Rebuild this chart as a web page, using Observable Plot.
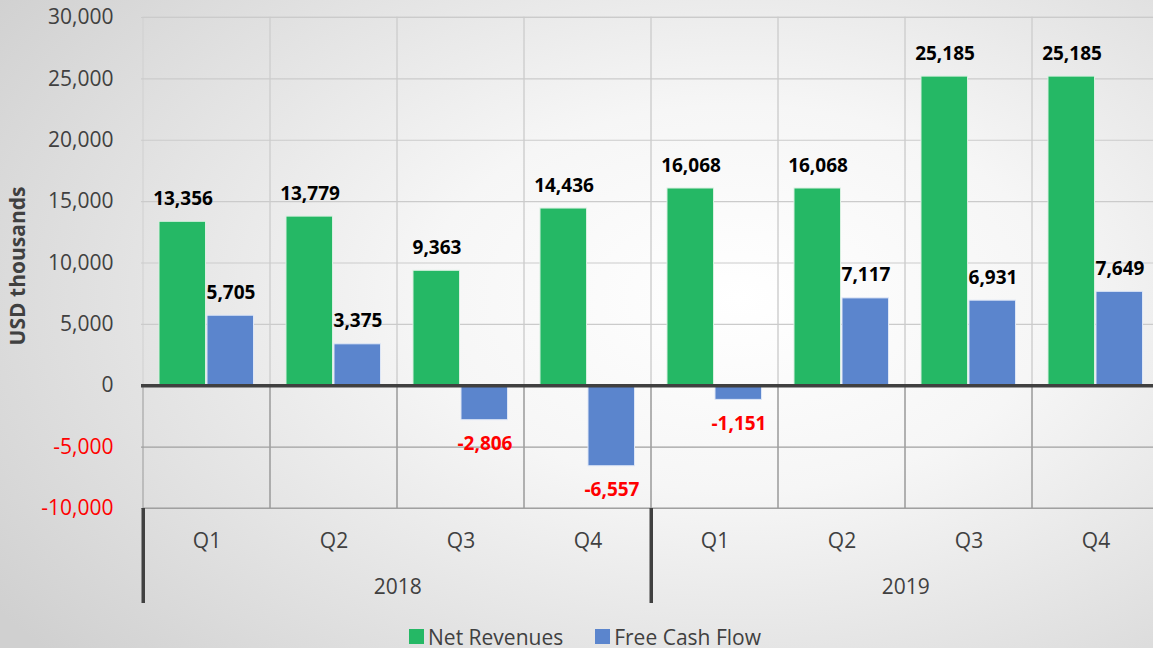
<!DOCTYPE html>
<html><head><meta charset="utf-8">
<script src="https://cdn.jsdelivr.net/npm/d3@7"></script>
<script src="https://cdn.jsdelivr.net/npm/@observablehq/plot@0.6"></script>
<style>
html,body{margin:0;padding:0;}
body{width:1153px;height:648px;overflow:hidden;font-family:"Open Sans",sans-serif;
background: radial-gradient(ellipse 78% 85% at 64% 46%, #ffffff 0%, #f6f6f6 35%, #d0d0d0 100%);}
#legend{display:flex;justify-content:center;margin-left:17px;}
.lg-swatch{margin-right:32px !important;}
.lg-swatch:last-child{margin-right:0 !important;}
.lg-swatch svg{margin-right:4px !important;}
</style></head><body><div id="chart"></div><div id="legend"></div>
<script>
const quarters = ["2018 Q1","2018 Q2","2018 Q3","2018 Q4","2019 Q1","2019 Q2","2019 Q3","2019 Q4"];
const quarterLabels = ["Q1","Q2","Q3","Q4","Q1","Q2","Q3","Q4"];
const years = ["2018","2019"];
const netRevenues = [13356, 13779, 9363, 14436, 16068, 16068, 25185, 25185];
const freeCashFlow = [5705, 3375, -2806, -6557, -1151, 7117, 6931, 7649];
const yTicks = [-10000,-5000,0,5000,10000,15000,20000,25000,30000];
const seriesNames = ["Net Revenues","Free Cash Flow"];
const seriesColors = ["#25b865","#5b85cd"];

const fmt = v => v.toLocaleString("en-US");
const rows = quarters.map((q,i)=>({q, label: quarterLabels[i], net: netRevenues[i], fcf: freeCashFlow[i]}));
const yMin = d3.min(yTicks), yMax = d3.max(yTicks);
const half = (1161-141)/quarters.length/2;

const chart = Plot.plot({
  width: 1153, height: 620,
  marginLeft: 141, marginRight: 0, marginTop: 0, marginBottom: 17,
  style: {fontFamily: "'Open Sans', sans-serif", background: "transparent", overflow: "visible"},
  x: {type: "band", domain: quarters, range: [141, 1161], padding: 0, axis: null},
  y: {domain: [yMin, yMax], range: [508, 17]},
  marks: [
    Plot.barY(quarters, {x: d => d, y1: 0, y2: yMax, fill: "none", stroke: "#d0d0d0", strokeWidth: 1}),
    Plot.barY(quarters, {x: d => d, y1: yMin, y2: 0, fill: "none", stroke: "#9a9a9a", strokeWidth: 1}),
    Plot.ruleY(yTicks.filter(d => d > 0), {stroke: "#cbcbcb", strokeWidth: 1.2}),
    Plot.ruleY(yTicks.filter(d => d < 0), {stroke: "#a0a0a0", strokeWidth: 1.2}),
    Plot.barY(rows, {x: "q", y: "net", fill: seriesColors[0], stroke: "#d8f0e0", strokeWidth: 1, insetLeft: 16, insetRight: 64.5}),
    Plot.barY(rows, {x: "q", y: "fcf", fill: seriesColors[1], stroke: "#dde6f6", strokeWidth: 1, insetLeft: 64, insetRight: 16.5}),
    Plot.ruleY([0], {stroke: "#404040", strokeWidth: 3.5}),
    Plot.text(rows, {x: "q", y: "net", text: d => fmt(d.net), dx: -24, dy: -23, fontWeight: "bold", fontSize: 19, fill: "#000"}),
    Plot.text(rows.filter(d => d.fcf >= 0), {x: "q", y: "fcf", text: d => fmt(d.fcf), dx: 24, dy: -23, fontWeight: "bold", fontSize: 19, fill: "#000"}),
    Plot.text(rows.filter(d => d.fcf < 0), {x: "q", y: "fcf", text: d => fmt(d.fcf), dx: 24, dy: 24, fontWeight: "bold", fontSize: 19, fill: "#ff0000"}),
    Plot.axisY(yTicks.filter(d => d >= 0), {tickSize: 0, tickPadding: 28, tickFormat: fmt, fill: "#404040", fontSize: 21, label: null}),
    Plot.axisY(yTicks.filter(d => d < 0), {tickSize: 0, tickPadding: 28, tickFormat: fmt, fill: "#ff0000", fontSize: 21, label: null}),
    Plot.text(["USD thousands"], {text: d => d, frameAnchor: "left", textAnchor: "middle", rotate: -90, dx: -123, dy: -36, fontWeight: "bold", fontSize: 21, fill: "#404040"}),
    Plot.text(rows, {x: "q", text: "label", frameAnchor: "bottom", dy: -56, fill: "#404040", fontSize: 21}),
    Plot.text(years, {x: d => d + " Q2", text: d => d, frameAnchor: "bottom", dx: half, dy: -10, fill: "#404040", fontSize: 21}),
    Plot.ruleX(["2018 Q1","2019 Q1"], {x: d => d, y1: yMin, y2: yMin, insetBottom: -95, dx: -half, stroke: "#404040", strokeWidth: 3.5})
  ]
});
document.getElementById("chart").appendChild(chart);

const legend = Plot.legend({
  color: {domain: seriesNames, range: seriesColors},
  swatchSize: 15, className: "lg",
  style: {fontFamily: "'Open Sans', sans-serif", fontSize: "21px", color: "#404040", background: "transparent"}
});
document.getElementById("legend").appendChild(legend);
</script>
</body></html>
